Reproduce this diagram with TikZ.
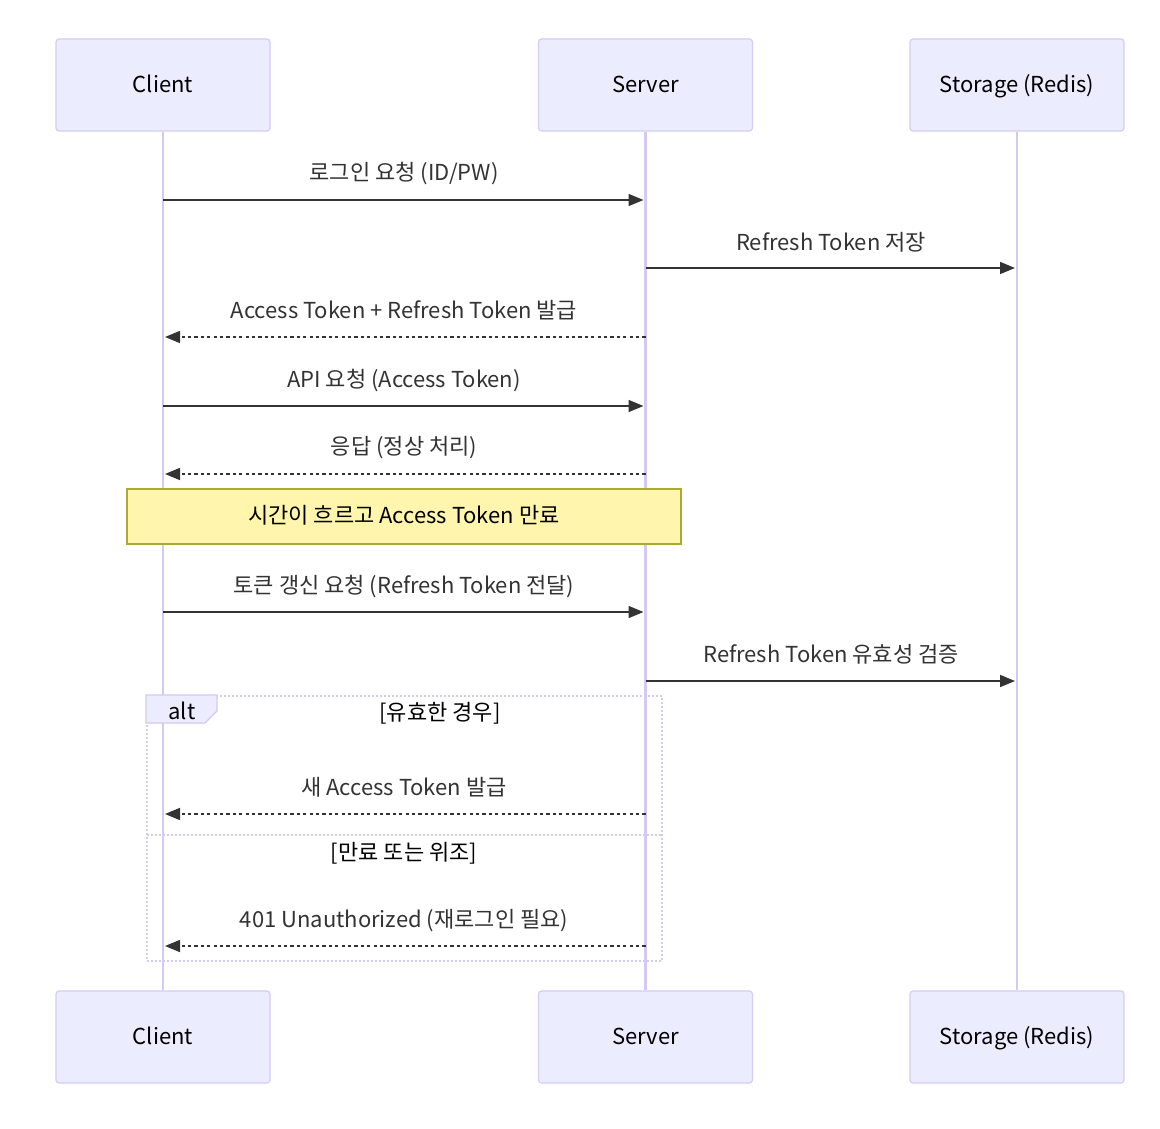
\documentclass[tikz,border=0pt]{standalone}
\usepackage{fontspec}
\setmainfont{Noto Sans CJK KR}
\usetikzlibrary{arrows.meta}
\usetikzlibrary{positioning}

\definecolor{actorfill}{HTML}{ECECFF}
\definecolor{actorline}{HTML}{D6CCF4}
\definecolor{lifecol}{HTML}{D4C9F2}
\definecolor{notefill}{HTML}{FFF5AD}
\definecolor{noteline}{HTML}{AAAA33}
\definecolor{msgcol}{HTML}{333333}

\tikzset{
  actor/.style={rectangle,rounded corners=1.5pt,draw=actorline,line width=0.6pt,fill=actorfill,
    minimum width=107pt,minimum height=46pt,text=black,text height=1.6ex,text depth=0.3ex},
  lifeline/.style={draw=lifecol,line width=1.4pt},
  msg/.style={draw=msgcol,line width=0.8pt,-{Triangle[length=7.5pt,width=6pt]},shorten >=1pt},
  reply/.style={msg,dash pattern=on 1.6pt off 1.6pt},
  lbl/.style={text=msgcol,inner sep=0pt,text height=1.6ex,text depth=0.3ex},
  altline/.style={draw=lifecol,line width=1pt,dash pattern=on 1pt off 1pt}
}

\begin{document}
\begin{tikzpicture}[x=0.5pt,y=-0.5pt,font=\fontsize{11}{13}\selectfont]
\useasboundingbox[fill=white] (0,0) rectangle (1160,1128);
% participants
\node[actor] (cltop) at (163,85) {Client};
\node[actor] (svtop) at (645.5,85) {Server};
\node[actor] (sttop) at (1017,85) {Storage (Redis)};
\node[actor] (clbot) at (163,1037) {Client};
\node[actor] (svbot) at (645.5,1037) {Server};
\node[actor] (stbot) at (1017,1037) {Storage (Redis)};
\draw[lifeline] (cltop.south) -- (clbot.north);
\draw[lifeline] (svtop.south) -- (svbot.north);
\draw[lifeline] (sttop.south) -- (stbot.north);

% alt frame
\node[altline,rectangle,minimum width=257.5pt,minimum height=132.5pt,inner sep=0pt] (altbox) at (404.5,828.5) {};
\draw[draw=lifecol,line width=0.6pt,fill=actorfill] (altbox.north west) -- ++(71,0) -- ++(0,16) -- ++(-12,12) -- ++(-59,0) -- cycle;
\node[lbl,text=black] (alttag) at (182,712) {alt};
\node[lbl,text=black] (guard1) at (440,713) {[유효한 경우]};
\coordinate (sepl) at (147,835);
\coordinate (sepr) at (662,835);
\draw[altline] (sepl) -- (sepr);
\node[lbl,text=black] (guard2) at (404,853) {[만료 또는 위조]};

% lifeline points
\coordinate (c1) at (163,200); \coordinate (s1) at (645.5,200);
\coordinate (s2) at (645.5,268); \coordinate (r2) at (1017,268);
\coordinate (s3) at (645.5,337); \coordinate (c3) at (163,337);
\coordinate (c4) at (163,406); \coordinate (s4) at (645.5,406);
\coordinate (s5) at (645.5,474); \coordinate (c5) at (163,474);
\coordinate (c6) at (163,612); \coordinate (s6) at (645.5,612);
\coordinate (s7) at (645.5,681); \coordinate (r7) at (1017,681);
\coordinate (s8) at (645.5,814); \coordinate (c8) at (163,814);
\coordinate (s9) at (645.5,946); \coordinate (c9) at (163,946);

% messages
\node[lbl] (m1) at (404,173) {로그인 요청 (ID/PW)};
\draw[msg] (c1) -- (s1);
\node[lbl] (m2) at (831,243) {Refresh Token 저장};
\draw[msg] (s2) -- (r2);
\node[lbl] (m3) at (404,311) {Access Token + Refresh Token 발급};
\draw[reply] (s3) -- (c3);
\node[lbl] (m4) at (404,380) {API 요청 (Access Token)};
\draw[msg] (c4) -- (s4);
\node[lbl] (m5) at (404,447) {응답 (정상 처리)};
\draw[reply] (s5) -- (c5);

\node[rectangle,draw=noteline,line width=0.6pt,fill=notefill,minimum width=277pt,minimum height=27.5pt,text=black,text height=1.6ex,text depth=0.3ex] (expire) at (404,516.5) {시간이 흐르고 Access Token 만료};

\node[lbl] (m6) at (404,586) {토큰 갱신 요청 (Refresh Token 전달)};
\draw[msg] (c6) -- (s6);
\node[lbl] (m7) at (831,655) {Refresh Token 유효성 검증};
\draw[msg] (s7) -- (r7);
\node[lbl] (m8) at (404,788) {새 Access Token 발급};
\draw[reply] (s8) -- (c8);
\node[lbl] (m9) at (404,920) {401 Unauthorized (재로그인 필요)};
\draw[reply] (s9) -- (c9);

\end{tikzpicture}
\end{document}
